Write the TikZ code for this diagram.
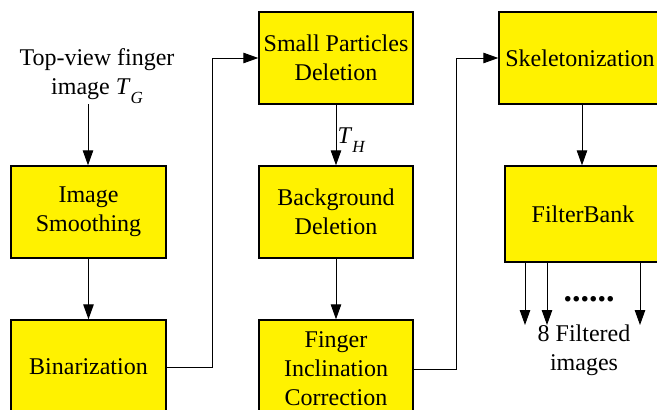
\documentclass[tikz,border=0pt]{standalone}
\usepackage{fontspec}
\setmainfont{Liberation Serif}
\usetikzlibrary{arrows.meta}
% italic symbol with italic subscript, e.g. T_G
\newcommand{\symsub}[2]{\textit{#1}\raisebox{-0.35em}{\fontsize{17}{17}\selectfont\textit{#2}}}
\tikzset{
  stage/.style={draw=black, line width=1.4pt, fill=yellow, align=center,
    inner sep=0pt, font=\fontsize{24}{29}\selectfont},
  link/.style={line width=1pt, -{Triangle[length=15pt,width=10.5pt]}},
  lbl/.style={align=center, inner sep=0pt, font=\fontsize{24}{29}\selectfont}
}
\begin{document}
\begin{tikzpicture}[x=1pt,y=-1pt]
\useasboundingbox (0,0) rectangle (657,410);
\clip (0,0) rectangle (657,410);
\fill[white] (0,0) rectangle (657,410);

% column 1
\node[lbl] (src) at (97,76) {Top-view finger\\image \symsub{T}{G}};
\node[stage, minimum width=155pt, minimum height=92pt] (smooth) at (88.5,212) {Image\\Smoothing};
\node[stage, minimum width=155pt, minimum height=94pt] (binar) at (88.5,367) {Binarization};

% column 2
\node[stage, minimum width=154pt, minimum height=92pt] (spd) at (336,58) {Small Particles\\Deletion};
\node[stage, minimum width=154pt, minimum height=92pt] (bgd) at (336,212) {Background\\Deletion};
\node[stage, minimum width=154pt, minimum height=98pt] (fic) at (336,369) {Finger\\Inclination\\Correction};

% column 3
\node[stage, minimum width=162pt, minimum height=92pt] (skel) at (580,58) {Skeletonization};
\node[stage, minimum width=156pt, minimum height=96pt] (fb) at (583,214) {FilterBank};

% connectors
\coordinate (srcend) at (88,104);
\draw[link] (srcend) -- (smooth.north -| srcend);
\draw[link] (smooth) -- (binar);
\draw[link] (binar.east) -- ++(46,0) |- (spd.west);
\draw[link] (spd) -- node[lbl, right, xshift=1pt, yshift=-5pt] (th) {\symsub{T}{H}} (bgd);
\draw[link] (bgd) -- (fic);
\draw[link] (fic.east) -- ++(43,0) |- (skel.west);
\draw[link] (skel.south -| 582,0) -- (fb.north -| 582,0);

% filter bank outputs
\coordinate (o1) at (525,325);
\coordinate (o2) at (547,325);
\coordinate (o3) at (640,325);
\foreach \o in {o1,o2,o3}
  \draw[link] (fb.south -| \o) -- (\o);
\node[anchor=base, inner sep=0pt, font=\fontsize{34}{34}\selectfont\bfseries] (dots) at (589,301.5) {......};
\node[lbl] (outtxt) at (584,350) {8 Filtered\\images};
\end{tikzpicture}
\end{document}
